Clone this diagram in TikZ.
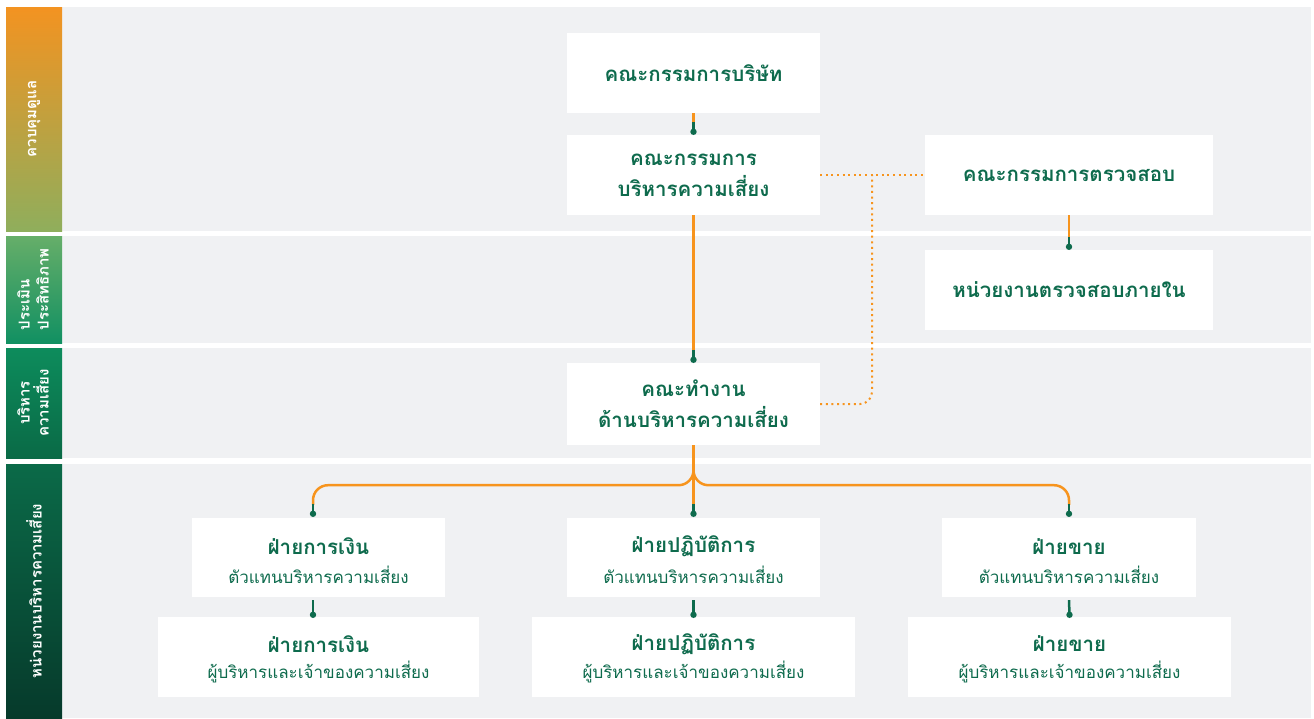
\documentclass[tikz,border=0pt]{standalone}
\usepackage{fontspec}
\newfontfamily\thai[Script=Thai]{Loma}
\usetikzlibrary{calc}
\definecolor{panel}{HTML}{F0F1F3}
\definecolor{orng}{HTML}{F7941D}
\definecolor{dkgreen}{HTML}{0E6B4D}
\definecolor{sAtop}{HTML}{F39321}
\definecolor{sAbot}{HTML}{8FAE5C}
\definecolor{sBtop}{HTML}{66AE69}
\definecolor{sBbot}{HTML}{119062}
\definecolor{sCtop}{HTML}{0D8C5C}
\definecolor{sCbot}{HTML}{0A6A46}
\definecolor{sDtop}{HTML}{0B6A48}
\definecolor{sDbot}{HTML}{063A2B}
\tikzset{
  box/.style={fill=white, draw=none, align=center, text=dkgreen, inner sep=0pt},
  ttl/.style={font=\thai\bfseries\fontsize{20.5}{31}\selectfont},
  sub/.style={font=\thai\fontsize{17}{20}\selectfont},
  bandtxt/.style={rotate=90, text=white, font=\thai\bfseries\fontsize{15}{19}\selectfont},
  oline/.style={draw=orng, line width=2.5pt},
  gline/.style={draw=dkgreen, line width=2.5pt},
  dotline/.style={draw=orng, line width=2pt, dash pattern=on 2pt off 3.6pt},
}
\newcommand\linkend[1]{%
  \draw[gline] ($(#1)+(0,-10)$) -- (#1);
  \fill[dkgreen] (#1) circle (3.2);
}
\begin{document}
\begin{tikzpicture}[x=1pt,y=-1pt]
\useasboundingbox (0,0) rectangle (1314,718);
\fill[white] (0,0) rectangle (1314,718);
% bands
\fill[panel] (62,7) rectangle (1311,231);
\fill[panel] (62,236) rectangle (1311,343);
\fill[panel] (62,348) rectangle (1311,458);
\fill[panel] (62,464) rectangle (1311,718);
\shade[top color=sAtop, bottom color=sAbot] (6,7) rectangle (62,231);
\shade[top color=sBtop, bottom color=sBbot] (6,236) rectangle (62,343);
\shade[top color=sCtop, bottom color=sCbot] (6,348) rectangle (62,458);
\shade[top color=sDtop, bottom color=sDbot] (6,464) rectangle (62,718);
\node[bandtxt] (b1) at (34,119) {ควบคุมดูแล};
\node[bandtxt, align=left] (b2) at (33,289.5) {ประเมิน\\ประสิทธิภาพ};
\node[bandtxt, align=center] (b3) at (33,403) {บริหาร\\ความเสี่ยง};
\node[bandtxt] (b4) at (34,591) {หน่วยงานบริหารความเสี่ยง};
% nodes
\node[box, ttl, minimum width=253, minimum height=80] (board) at (693.5,73) {คณะกรรมการบริษัท};
\node[box, ttl, minimum width=253, minimum height=80] (rmc) at (693.5,175) {คณะกรรมการ\\บริหารความเสี่ยง};
\node[box, ttl, minimum width=288, minimum height=80] (audit) at (1069,175) {คณะกรรมการตรวจสอบ};
\node[box, ttl, minimum width=288, minimum height=80] (ia) at (1069,290) {หน่วยงานตรวจสอบภายใน};
\node[box, ttl, minimum width=253, minimum height=82] (wg) at (693.5,404) {คณะทำงาน\\ด้านบริหารความเสี่ยง};
\node[box, minimum width=253, minimum height=79] (fr) at (318.5,557.5) {};
\node[box, minimum width=253, minimum height=79] (opr) at (693.5,557.5) {};
\node[box, minimum width=254, minimum height=79] (sr) at (1069,557.5) {};
\node[box, minimum width=321, minimum height=80] (fo) at (318.5,657) {};
\node[box, minimum width=323, minimum height=80] (oo) at (693.5,657) {};
\node[box, minimum width=323, minimum height=80] (so) at (1069.5,657) {};
\foreach \n in {fr,opr,sr}{\coordinate (\n-t) at ($(\n.center)+(0,-11)$); \coordinate (\n-s) at ($(\n.center)+(0,17)$);}
\foreach \n in {fo,oo,so}{\coordinate (\n-t) at ($(\n.center)+(0,-13)$); \coordinate (\n-s) at ($(\n.center)+(0,15)$);}
\node[ttl, text=dkgreen] (frt) at (fr-t) {ฝ่ายการเงิน};
\node[sub, text=dkgreen] (frs) at (fr-s) {ตัวแทนบริหารความเสี่ยง};
\node[ttl, text=dkgreen] (oprt) at (opr-t) {ฝ่ายปฏิบัติการ};
\node[sub, text=dkgreen] (oprs) at (opr-s) {ตัวแทนบริหารความเสี่ยง};
\node[ttl, text=dkgreen] (srt) at (sr-t) {ฝ่ายขาย};
\node[sub, text=dkgreen] (srs) at (sr-s) {ตัวแทนบริหารความเสี่ยง};
\node[ttl, text=dkgreen] (fot) at (fo-t) {ฝ่ายการเงิน};
\node[sub, text=dkgreen] (fos) at (fo-s) {ผู้บริหารและเจ้าของความเสี่ยง};
\node[ttl, text=dkgreen] (oot) at (oo-t) {ฝ่ายปฏิบัติการ};
\node[sub, text=dkgreen] (oos) at (oo-s) {ผู้บริหารและเจ้าของความเสี่ยง};
\node[ttl, text=dkgreen] (sot) at (so-t) {ฝ่ายขาย};
\node[sub, text=dkgreen] (sos) at (so-s) {ผู้บริหารและเจ้าของความเสี่ยง};
% end points of connectors
\coordinate (e-rmc) at ($(rmc.north)+(0,-3)$);
\coordinate (e-ia) at ($(ia.north)+(0,-3)$);
\coordinate (e-wg) at ($(wg.north)+(0,-3)$);
\coordinate (e-fr) at ($(fr.north)+(-5.5,-4)$);
\coordinate (e-opr) at ($(opr.north)+(0,-4)$);
\coordinate (e-sr) at ($(sr.north)+(0,-4)$);
\coordinate (e-fo) at ($(fo.north)+(-5.5,-2)$);
\coordinate (e-oo) at ($(oo.north)+(0,-2)$);
\coordinate (e-so) at ($(so.north)+(0,-2)$);
% dotted links
\coordinate (dj) at (872,175);
\draw[dotline] (rmc.east) -- (audit.west);
\draw[dotline, rounded corners=12] (wg.east) -| (dj);
% solid links
\draw[oline] (board.south) -- ($(e-rmc)+(0,-9)$);
\linkend{e-rmc}
\draw[oline] (rmc.south) -- ($(e-wg)+(0,-9)$);
\linkend{e-wg}
\draw[oline] (audit.south) -- ($(e-ia)+(0,-9)$);
\linkend{e-ia}
\draw[oline, rounded corners=15] (wg.south) -- ++(0,40) -| ($(e-fr)+(0,-9)$);
\draw[oline, rounded corners=15] (wg.south) -- ++(0,40) -| ($(e-sr)+(0,-9)$);
\draw[oline] (wg.south) -- ($(e-opr)+(0,-9)$);
\linkend{e-fr}
\linkend{e-opr}
\linkend{e-sr}
\draw[gline] ($(fr.south)+(-5.5,3)$) -- (e-fo);
\fill[dkgreen] (e-fo) circle (3.2);
\draw[gline] ($(opr.south)+(0,3)$) -- (e-oo);
\fill[dkgreen] (e-oo) circle (3.2);
\draw[gline] ($(sr.south)+(0,3)$) -- (e-so);
\fill[dkgreen] (e-so) circle (3.2);
\end{tikzpicture}
\end{document}
